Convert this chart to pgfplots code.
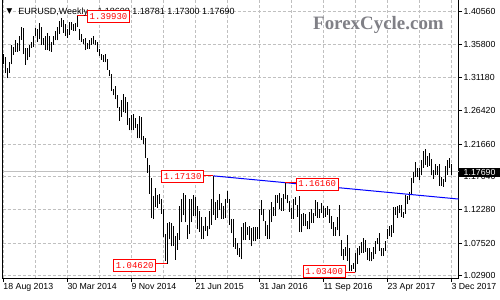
\documentclass[border=0pt]{standalone}
\usepackage{fontspec}
\setmainfont{Liberation Sans}
\newfontfamily\monofont{Liberation Mono}
\newfontfamily\wmfont{Liberation Serif}
\newfontfamily\dejavu{DejaVu Sans}
\usepackage{pgfplots}
\pgfplotsset{compat=1.18}
\usepackage{pgfplotstable}
\definecolor{gridc}{RGB}{192,192,192}
\definecolor{wmgray}{RGB}{128,128,134}
\definecolor{mtred}{RGB}{255,0,0}
\definecolor{mtblue}{RGB}{0,0,255}

\pgfplotstableread{
i h l
0 1.3452 1.3300
1 1.3400 1.3175
2 1.3250 1.3105
3 1.3340 1.3180
4 1.3569 1.3300
5 1.3545 1.3440
6 1.3647 1.3480
7 1.3610 1.3480
8 1.3705 1.3490
9 1.3833 1.3650
10 1.3820 1.3445
11 1.3530 1.3295
12 1.3530 1.3360
13 1.3580 1.3400
14 1.3620 1.3540
15 1.3705 1.3545
16 1.3812 1.3705
17 1.3810 1.3625
18 1.3893 1.3660
19 1.3830 1.3575
20 1.3680 1.3573
21 1.3700 1.3510
22 1.3740 1.3510
23 1.3700 1.3485
24 1.3620 1.3477
25 1.3700 1.3580
26 1.3775 1.3640
27 1.3825 1.3640
28 1.3915 1.3735
29 1.3967 1.3830
30 1.3925 1.3750
31 1.3880 1.3705
32 1.3810 1.3672
33 1.3905 1.3720
34 1.3905 1.3790
35 1.3870 1.3780
36 1.3885 1.3775
37 1.3993 1.3830
38 1.3810 1.3645
39 1.3735 1.3615
40 1.3660 1.3585
41 1.3670 1.3503
42 1.3600 1.3520
43 1.3650 1.3525
44 1.3675 1.3580
45 1.3700 1.3590
46 1.3640 1.3575
47 1.3620 1.3480
48 1.3525 1.3420
49 1.3445 1.3365
50 1.3435 1.3335
51 1.3445 1.3330
52 1.3375 1.3220
53 1.3220 1.3130
54 1.3170 1.2920
55 1.2950 1.2860
56 1.2995 1.2800
57 1.2860 1.2680
58 1.2700 1.2500
59 1.2790 1.2550
60 1.2885 1.2615
61 1.2840 1.2610
62 1.2770 1.2440
63 1.2530 1.2360
64 1.2580 1.2360
65 1.2600 1.2360
66 1.2530 1.2400
67 1.2455 1.2245
68 1.2570 1.2245
69 1.2545 1.2220
70 1.2285 1.2165
71 1.2250 1.1965
72 1.1970 1.1755
73 1.1870 1.1460
74 1.1680 1.1115
75 1.1425 1.1098
76 1.1535 1.1270
77 1.1445 1.1260
78 1.1450 1.1315
79 1.1390 1.1175
80 1.1245 1.0840
81 1.0890 1.0495
82 1.1043 1.0462
83 1.1050 1.0810
84 1.1035 1.0710
85 1.1000 1.0720
86 1.0850 1.0520
87 1.0900 1.0660
88 1.1290 1.0800
89 1.1390 1.1050
90 1.1466 1.1150
91 1.1445 1.1050
92 1.1010 1.0820
93 1.1380 1.0890
94 1.1385 1.1050
95 1.1435 1.1135
96 1.1410 1.1135
97 1.1280 1.0955
98 1.1215 1.0915
99 1.1125 1.0810
100 1.1000 1.0810
101 1.1130 1.0925
102 1.1000 1.0850
103 1.1215 1.0950
104 1.1385 1.1015
105 1.1713 1.1155
106 1.1335 1.1085
107 1.1375 1.1120
108 1.1460 1.1220
109 1.1330 1.1105
110 1.1290 1.1105
111 1.1385 1.1120
112 1.1495 1.1325
113 1.1390 1.1015
114 1.1095 1.0895
115 1.1095 1.0705
116 1.0830 1.0675
117 1.0760 1.0590
118 1.0690 1.0560
119 1.0980 1.0524
120 1.1045 1.0795
121 1.1060 1.0805
122 1.0990 1.0870
123 1.0995 1.0800
124 1.0970 1.0710
125 1.0990 1.0780
126 1.0990 1.0780
127 1.0985 1.0810
128 1.1240 1.0810
129 1.1376 1.1160
130 1.1245 1.1065
131 1.1070 1.0860
132 1.1015 1.0820
133 1.1220 1.0820
134 1.1340 1.1055
135 1.1275 1.1145
136 1.1440 1.1145
137 1.1435 1.1330
138 1.1465 1.1235
139 1.1400 1.1215
140 1.1450 1.1215
141 1.1616 1.1385
142 1.1445 1.1320
143 1.1350 1.1200
144 1.1250 1.1100
145 1.1380 1.1100
146 1.1415 1.1300
147 1.1300 1.1130
148 1.1428 1.0912
149 1.1165 1.0910
150 1.1185 1.1000
151 1.1165 1.1000
152 1.1065 1.0950
153 1.1200 1.0950
154 1.1235 1.1045
155 1.1185 1.1045
156 1.1366 1.1140
157 1.1340 1.1120
158 1.1240 1.1120
159 1.1325 1.1190
160 1.1285 1.1120
161 1.1260 1.1125
162 1.1280 1.1160
163 1.1240 1.1045
164 1.1140 1.0960
165 1.1060 1.0860
166 1.0990 1.0860
167 1.1125 1.0940
168 1.1300 1.0850
169 1.0800 1.0570
170 1.0665 1.0520
171 1.0700 1.0570
172 1.0875 1.0505
173 1.0680 1.0365
174 1.0450 1.0352
175 1.0470 1.0390
176 1.0620 1.0340
177 1.0685 1.0455
178 1.0720 1.0580
179 1.0775 1.0620
180 1.0830 1.0620
181 1.0800 1.0630
182 1.0680 1.0520
183 1.0680 1.0495
184 1.0630 1.0495
185 1.0700 1.0525
186 1.0780 1.0600
187 1.0830 1.0740
188 1.0905 1.0650
189 1.0690 1.0570
190 1.0680 1.0570
191 1.0780 1.0640
192 1.0950 1.0820
193 1.1000 1.0850
194 1.1020 1.0840
195 1.1265 1.0900
196 1.1270 1.1160
197 1.1285 1.1110
198 1.1295 1.1180
199 1.1295 1.1130
200 1.1200 1.1120
201 1.1445 1.1170
202 1.1430 1.1310
203 1.1490 1.1370
204 1.1680 1.1450
205 1.1775 1.1610
206 1.1910 1.1690
207 1.1830 1.1690
208 1.1830 1.1660
209 1.1945 1.1720
210 1.2070 1.1825
211 1.2092 1.1865
212 1.2000 1.1840
213 1.2035 1.1860
214 1.1955 1.1720
215 1.1790 1.1670
216 1.1880 1.1730
217 1.1860 1.1730
218 1.1880 1.1575
219 1.1690 1.1575
220 1.1665 1.1555
221 1.1860 1.1630
222 1.1940 1.1730
223 1.1961 1.1830
224 1.18781 1.17300
}\bars

\begin{document}
\begin{tikzpicture}
\path[use as bounding box] (0,0) rectangle (500bp,300bp);
\begin{axis}[
  at={(2.7bp,22bp)}, anchor=south west,
  scale only axis, width=455.8bp, height=279bp,
  xmin=-0.3, xmax=227.6, ymin=1.02589, ymax=1.42307,
  clip=false,
  axis line style={black, line width=1bp},
  xtick={0,32,...,224},
  xticklabels={18 Aug 2013, 30 Mar 2014, 9 Nov 2014, 21 Jun 2015, 31 Jan 2016, 11 Sep 2016, 23 Apr 2017, 3 Dec 2017},
  minor xtick={16,48,...,208},
  xmajorgrids, xminorgrids, ymajorgrids,
  major grid style={gridc, dash pattern=on 3bp off 2bp, line width=1bp},
  minor grid style={gridc, dash pattern=on 3bp off 2bp, line width=1bp},
  ytick={1.4056,1.3580,1.3118,1.2642,1.2166,1.1704,1.1228,1.0752,1.0290},
  yticklabels={1.40560,1.35800,1.31180,1.26420,1.21660,1.17040,1.12280,1.07520,1.02900},
  xtick pos=bottom, ytick pos=right, yticklabel pos=right,
  tick align=outside, major tick length=3.5bp, minor tick length=0pt,
  tick style={black, line width=1bp},
  xticklabel style={font=\fontsize{8.8}{10}\selectfont, anchor=north west, inner xsep=0pt, inner ysep=1.5bp},
  yticklabel style={font=\fontsize{8.8}{10}\selectfont, anchor=west, inner xsep=1.5bp},
]
% bid line
\addplot[gridc, line width=1bp, forget plot] coordinates {(-0.3,1.1769) (227.6,1.1769)};
% weekly bars (high-low)
\addplot[draw=none, forget plot, error bars/.cd, y dir=plus, y explicit, error mark=none,
  error bar style={black, line width=1bp}]
  table[x=i, y=l, y error expr=\thisrow{h}-\thisrow{l}] {\bars};
% trend line
\addplot[mtblue, line width=1bp, forget plot] coordinates {(105,1.1713) (227.6,1.1383)};
% red connectors
\addplot[mtred, line width=1bp, forget plot] coordinates {(37,1.3993) (42.35,1.3993)};
\addplot[mtred, line width=1bp, forget plot] coordinates {(100.5,1.1713) (105,1.1713)};
\addplot[mtred, line width=1bp, forget plot] coordinates {(141,1.1616) (146.5,1.1616)};
\addplot[mtred, line width=1bp, forget plot] coordinates {(76.35,1.0462) (82,1.0462)};
\addplot[mtred, line width=1bp, forget plot] coordinates {(170.85,1.0340) (176,1.0340)};

% header
\node[anchor=base, inner sep=0pt, font=\dejavu\fontsize{7.5}{7.5}\selectfont] at (axis cs:3.1,1.4022) {▼};
\node[anchor=base west, inner sep=0pt, font=\fontsize{9}{10}\selectfont] at (axis cs:7.5,1.4013) {EURUSD,Weekly};
\node[anchor=base west, inner sep=0pt, font=\fontsize{9}{10}\selectfont] at (axis cs:47,1.4013) {1.18608 1.18781 1.17300 1.17690};
% watermark
\node[anchor=base west, inner sep=0pt, text=wmgray, font=\wmfont\bfseries\fontsize{19}{20}\selectfont] at (axis cs:154.85,1.37994) {ForexCycle.com};

% price labels
\tikzset{plab/.style={draw=mtred, fill=white, text=mtred, line width=1bp, inner sep=0pt,
  minimum width=42bp, minimum height=12bp, font=\monofont\fontsize{9}{9}\selectfont}}
\node[plab] at (axis cs:52.6,1.3983) {1.39930};
\node[plab] at (axis cs:89.65,1.1704) {1.17130};
\node[plab] at (axis cs:157.0,1.1597) {1.16160};
\node[plab] at (axis cs:65.7,1.0439) {1.04620};
\node[plab] at (axis cs:160.4,1.0349) {1.03400};

% current price label
\node[anchor=west, fill=black, text=white, inner xsep=5bp, inner ysep=0pt, minimum height=9bp,
  font=\fontsize{8.8}{9}\selectfont] at (axis cs:227.6,1.1762) {1.17690};
\end{axis}
\end{tikzpicture}
\end{document}
